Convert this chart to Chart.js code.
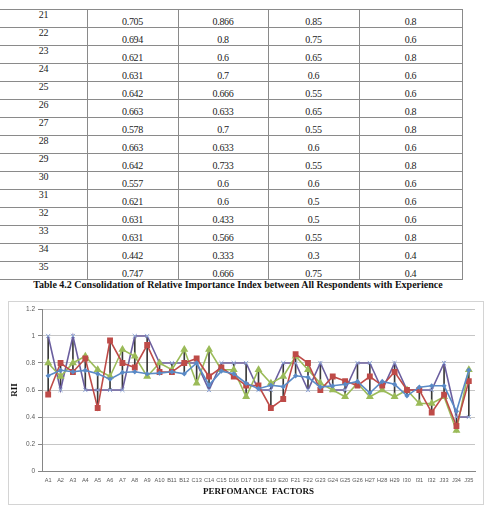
<!DOCTYPE html>
<html>
<head>
<meta charset="utf-8">
<script src="https://cdn.jsdelivr.net/npm/chart.js@4/dist/chart.umd.min.js"></script>
<style>
  body { margin: 0; background: #fff; width: 484px; height: 505px; overflow: hidden; position: relative; }
  .hl { position: absolute; height: 1px; background: #8a8a8a; }
  .vl { position: absolute; width: 1px; background: #8a8a8a; }
  .cell { position: absolute; font: 10px 'Liberation Serif', serif; line-height: 10px; text-align: center; color: #222; letter-spacing: -0.3px; }
  #caption { position: absolute; top: 279px; left: 0; width: 476px; text-align: center; white-space: nowrap;
             font: bold 11px 'Liberation Serif', serif; line-height: 11px; color: #111; }
  #chartBox { position: absolute; left: 8px; top: 301px; width: 474px; height: 202px; border: 1px solid #d4d4d4; }
</style>
</head>
<body>
<div id="tbl"></div>
<div id="caption">Table 4.2 Consolidation of Relative Importance Index between All Respondents with Experience</div>
<div id="chartBox"><canvas id="riiChart" width="474" height="202"></canvas></div>
<script>
const factors = ['A1','A2','A3','A4','A5','A6','A7','A8','A9','A10','B11','B12','C13','C14','C15','D16','D17','D18',
                 'E19','E20','F21','F22','G23','G24','G25','G26','H27','H28','H29','I30','I31','I32','J33','J34','J35'];
const riiAll = [0.705,0.746,0.735,0.745,0.72,0.68,0.73,0.735,0.72,0.725,0.735,0.72,0.8,0.636,0.74,0.72,0.65,0.61,0.635,0.625,
                0.705,0.694,0.621,0.631,0.642,0.663,0.578,0.663,0.642,0.557,0.621,0.631,0.631,0.442,0.747];
const riiExp1 = [0.567,0.8,0.733,0.833,0.467,0.967,0.8,0.767,0.933,0.733,0.733,0.8,0.833,0.7,0.767,0.7,0.633,0.633,0.467,0.533,
                 0.866,0.8,0.6,0.7,0.666,0.633,0.7,0.633,0.733,0.6,0.6,0.433,0.566,0.333,0.666];
const riiExp2 = [0.8,0.7,0.8,0.85,0.75,0.7,0.9,0.85,0.7,0.8,0.75,0.9,0.65,0.9,0.75,0.75,0.55,0.75,0.65,0.7,
                 0.85,0.75,0.65,0.6,0.55,0.65,0.55,0.6,0.55,0.6,0.5,0.5,0.55,0.3,0.75];
const riiExp3 = [1,0.6,1,0.6,0.6,0.6,0.6,1,1,0.8,0.8,0.8,0.8,0.6,0.8,0.8,0.8,0.6,0.6,0.8,
                 0.8,0.6,0.8,0.6,0.6,0.8,0.8,0.6,0.8,0.6,0.6,0.6,0.8,0.4,0.4];
const yTicks = [0, 0.2, 0.4, 0.6, 0.8, 1, 1.2];

// table of rows 21..35
const tbl = document.getElementById('tbl');
const colEdges = [0, 87, 178, 268, 359, 462];
const firstRow = 20, rowH = 18, tblTop = 9;

function addDiv(cls, css, text) {
    const d = document.createElement('div');
    d.className = cls;
    Object.assign(d.style, css);
    if (text !== undefined) d.textContent = text;
    tbl.appendChild(d);
}

const nRows = factors.length - firstRow;
for (let k = 0; k <= nRows; k++) {
    addDiv('hl', { left: '0px', top: (tblTop + k * rowH) + 'px', width: '463px' });
}
for (let c = 1; c < colEdges.length; c++) {
    addDiv('vl', { left: colEdges[c] + 'px', top: tblTop + 'px', height: (nRows * rowH + 1) + 'px' });
}
for (let r = 0; r < nRows; r++) {
    const i = firstRow + r;
    const top = tblTop + r * rowH;
    addDiv('cell', { left: '0px', width: colEdges[1] + 'px', top: (top + 1) + 'px' }, String(i + 1));
    const vals = [riiAll[i], riiExp1[i], riiExp2[i], riiExp3[i]];
    vals.forEach((v, c) => {
        addDiv('cell', { left: colEdges[c + 1] + 'px', width: (colEdges[c + 2] - colEdges[c + 1]) + 'px', top: (top + 8) + 'px' }, String(v));
    });
}

// squeeze caption to the printed width
const cap = document.getElementById('caption');
const capCtx = document.createElement('canvas').getContext('2d');
capCtx.font = "bold 11px 'Liberation Serif'";
const capW = capCtx.measureText(cap.textContent).width;
cap.style.transform = 'scaleX(' + (410 / capW) + ')';

// high-low lines from the four series
const highLow = factors.map((_, i) => {
    const v = [riiAll[i], riiExp1[i], riiExp2[i], riiExp3[i]];
    return [Math.min(...v), Math.max(...v)];
});

const ctx = document.getElementById('riiChart').getContext('2d');
new Chart(ctx, {
    type: 'line',
    data: {
        labels: factors,
        datasets: [
            { type: 'bar', data: highLow, backgroundColor: '#3a3a3a', barThickness: 1, order: 10 },
            { data: riiAll, borderColor: '#5a8ac6', backgroundColor: '#5a8ac6', borderWidth: 1.6,
              pointStyle: 'rectRot', pointRadius: 1.5, order: 1 },
            { data: riiExp1, borderColor: '#be4b48', backgroundColor: '#be4b48', borderWidth: 1.6,
              pointStyle: 'rect', pointRadius: 3, order: 1 },
            { data: riiExp2, borderColor: '#9bbb59', backgroundColor: '#9bbb59', borderWidth: 1.6,
              pointStyle: 'triangle', pointRadius: 3, order: 1 },
            { data: riiExp3, borderColor: '#6b5f9f', backgroundColor: '#6b5f9f', borderWidth: 1.6,
              pointStyle: 'crossRot', pointRadius: 3, pointBorderColor: '#8fa8d8', pointBorderWidth: 1, order: 1 }
        ]
    },
    options: {
        responsive: false,
        animation: false,
        layout: { padding: { top: 7, right: 8, left: 0, bottom: 0 } },
        plugins: { legend: { display: false }, tooltip: { enabled: false } },
        scales: {
            x: {
                offset: true,
                grid: { display: false, drawTicks: false },
                border: { display: true, color: '#868686' },
                ticks: { autoSkip: false, maxRotation: 0, minRotation: 0, padding: 6, color: '#595959',
                         font: { family: "'Liberation Sans', Arial, sans-serif", size: 5.6 } },
                title: { display: true, text: 'PERFOMANCE  FACTORS', color: '#111', padding: { top: 3, bottom: 7 },
                         font: { family: "'Liberation Serif', serif", size: 9, weight: 'bold' } },
                afterFit: s => { s.height = 33; }
            },
            y: {
                min: 0, max: 1.2,
                afterBuildTicks: s => { s.ticks = yTicks.map(v => ({ value: v })); },
                grid: { color: '#c6c6c6', tickLength: 4, tickColor: '#868686' },
                border: { display: true, color: '#868686' },
                ticks: { padding: 3, color: '#595959', callback: v => String(v),
                         font: { family: "'Liberation Sans', Arial, sans-serif", size: 6.5 } },
                title: { display: true, text: 'RII', color: '#111', padding: { top: 0, bottom: 0 },
                         font: { family: "'Liberation Serif', serif", size: 9, weight: 'bold' } },
                afterFit: s => { s.width = 33; }
            }
        }
    }
});
</script>
</body>
</html>
